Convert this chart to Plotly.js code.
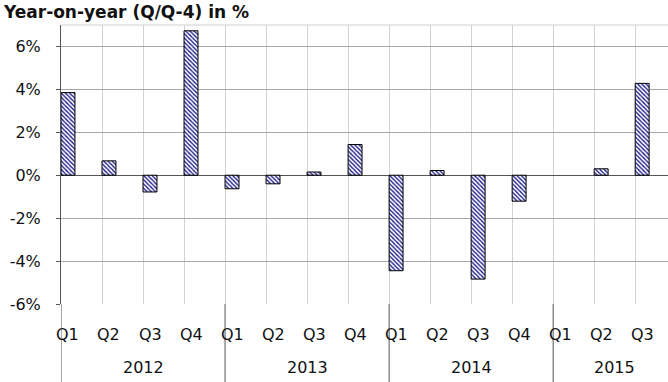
<!DOCTYPE html>
<html><head><meta charset="utf-8">
<script src="https://cdn.plot.ly/plotly-3.0.1.min.js"></script>
<style>html,body{margin:0;padding:0;background:#fff}#chart{width:668px;height:382px}</style>
</head><body><div id="chart"></div>
<script>
const years = ['2012','2013','2014','2015'];
const quartersPerYear = [4,4,4,3];
const quarterLabels = ['Q1','Q2','Q3','Q4','Q1','Q2','Q3','Q4','Q1','Q2','Q3','Q4','Q1','Q2','Q3'];
const yoyValues = [3.85,0.67,-0.78,6.73,-0.63,-0.40,0.15,1.43,-4.45,0.22,-4.84,-1.21,null,0.30,4.28];
const yTicks = [-6,-4,-2,0,2,4,6];
const yTickText = ['-6%','-4%','-2%','0%','2%','4%','6%'];
const titleText = 'Year-on-year (Q/Q-4) in %';

const idx = quarterLabels.map((_, i) => i);
const barW = 0.34;
const half = barW / 2;
const yearStart = [];
let acc = 0;
quartersPerYear.forEach(n => { yearStart.push(acc); acc += n; });

const FONT = 'DejaVu Sans, Liberation Sans, Arial, sans-serif';

const shapes = yearStart.map(s => ({
  type: 'line', xref: 'x', yref: 'paper', x0: s - half, x1: s - half, y0: 0, y1: -0.3,
  line: {color: '#555555', width: 1}
}));
shapes.push({type: 'line', xref: 'paper', yref: 'paper', x0: 0, x1: 1, y0: 1, y1: 1,
  line: {color: '#cfcfcf', width: 1}});

const annotations = years.map((y, k) => ({
  text: y, xref: 'x', yref: 'paper', x: yearStart[k] - half + quartersPerYear[k] / 2, y: 0,
  yanchor: 'middle', xanchor: 'center', yshift: -63, showarrow: false,
  font: {family: FONT, size: 16, color: '#111'}
})).concat(quarterLabels.map((q, i) => ({
  text: q, xref: 'x', yref: 'paper', x: idx[i], y: 0,
  yanchor: 'middle', xanchor: 'center', yshift: -30, showarrow: false,
  font: {family: FONT, size: 16, color: '#111'}
})));

const trace = {
  type: 'bar', x: idx, y: yoyValues, width: barW,
  marker: {
    color: '#ffffff',
    pattern: {shape: '\\', fgcolor: '#1c1c8a', bgcolor: '#ffffff', size: 3, solidity: 0.45},
    line: {color: '#000000', width: 1}
  },
  hoverinfo: 'skip'
};

const layout = {
  width: 668, height: 382,
  margin: {l: 61, r: 0, t: 25, b: 78},
  paper_bgcolor: '#ffffff', plot_bgcolor: '#ffffff',
  showlegend: false,
  font: {family: FONT, size: 16, color: '#111'},
  title: {text: '<b>' + titleText + '</b>', xref: 'container', yref: 'container',
          x: 0.006, xanchor: 'left', y: 1.003, yanchor: 'middle',
          font: {family: 'DejaVu Sans, Liberation Sans, Arial, sans-serif', size: 17, color: '#111'}},
  xaxis: {
    range: [-half, 14.8 - half],
    tickmode: 'linear', tick0: -half, dtick: 1,
    showticklabels: false,
    showgrid: true, gridcolor: '#d2d2d2', gridwidth: 1,
    zeroline: false, showline: false, ticks: '',
    fixedrange: true
  },
  yaxis: {
    range: [-6, 7],
    tickvals: yTicks, ticktext: yTickText,
    showgrid: true, gridcolor: '#a8a8a8', gridwidth: 1,
    zeroline: true, zerolinecolor: '#555555', zerolinewidth: 1,
    showline: true, linecolor: '#555555', linewidth: 1,
    ticks: 'outside', ticklen: 4, tickcolor: '#555555',
    ticklabelstandoff: 12,
    tickfont: {family: FONT, size: 16, color: '#111'},
    fixedrange: true
  },
  bargap: 0,
  shapes: shapes,
  annotations: annotations
};

Plotly.newPlot('chart', [trace], layout, {displayModeBar: false, staticPlot: true});
</script>
</body></html>
